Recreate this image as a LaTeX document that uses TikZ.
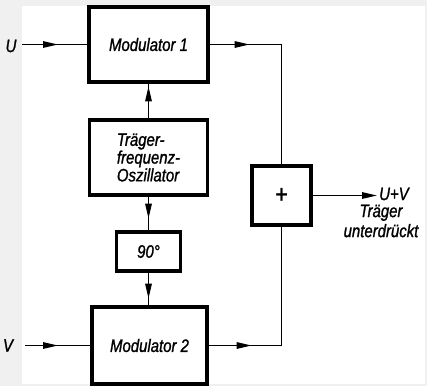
\documentclass[tikz,border=0pt]{standalone}
\usepackage{fontspec}
\newfontfamily\techfont{Liberation Sans}[FakeStretch=0.83,FakeBold=1.2]
\usetikzlibrary{arrows.meta,decorations.markings}
\definecolor{bggray}{RGB}{240,240,240}
\newcommand{\tf}{\techfont\itshape\fontsize{18}{16.5}\selectfont}
\newcommand{\tfwide}{\techfont\itshape\fontsize{18}{20}\selectfont}
\begin{document}
\begin{tikzpicture}[x=1pt,y=-1pt,
  box/.style={draw=black, line width=3.2pt, inner sep=0pt, font=\tf},
  conn/.style={line width=1.4pt},
  marr/.style={postaction={decorate}, decoration={markings, mark=at position #1 with {\arrow{Triangle[length=15pt,width=6.5pt]}}}},
  lbl/.style={inner sep=0pt, font=\tf}
]
\useasboundingbox (0,0) rectangle (427,386);
\fill[bggray] (0,0) rectangle (427,386);
\fill[white] (22,6) rectangle (425,384);

\node[box, minimum width=119pt, minimum height=75pt] (m1) at (148.5,44.5) {Modulator 1};
\node[box, minimum width=118pt, minimum height=75pt, align=left] (osc) at (148.5,157.5) {Tr\"ager-\\frequenz-\\Oszillator};
\node[box, minimum width=64pt, minimum height=39pt] (ph) at (148.5,251.5) {90°};
\node[box, minimum width=115pt, minimum height=77pt] (m2) at (149.5,345.5) {Modulator 2};
\node[box, minimum width=59pt, minimum height=59pt, font=\techfont\fontsize{26}{26}\selectfont] (plus) at (281.5,195.5) {+};

\node[lbl] (u) at (11,46) {U};
\node[lbl] (v) at (8,345.5) {V};
\coordinate (uin) at (22,44.5);
\coordinate (vin) at (25,345.5);
\coordinate (out) at (377,195.5);
\node[lbl, anchor=west] (uv) at (379,194) {U+V};
\node[lbl, align=center, font=\tfwide] (note) at (381,221) {Tr\"ager\\unterdr\"uckt};

\draw[conn, marr=36pt] (uin) -- (m1.west);
\draw[conn, marr=33pt] (vin) -- (m2.west);
\draw[conn, marr=32pt] (osc.north) -- (m1.south);
\draw[conn, marr=22pt] (osc.south) -- (ph.north);
\draw[conn, marr=26pt] (ph.south) -- (ph.south |- m2.north);
\draw[conn, marr=40pt] (m1.east) -| (plus.north);
\draw[conn, marr=43pt] (m2.east) -| (plus.south);
\draw[conn, -{Triangle[length=15pt,width=6.5pt]}] (plus.east) -- (out);
\end{tikzpicture}
\end{document}
